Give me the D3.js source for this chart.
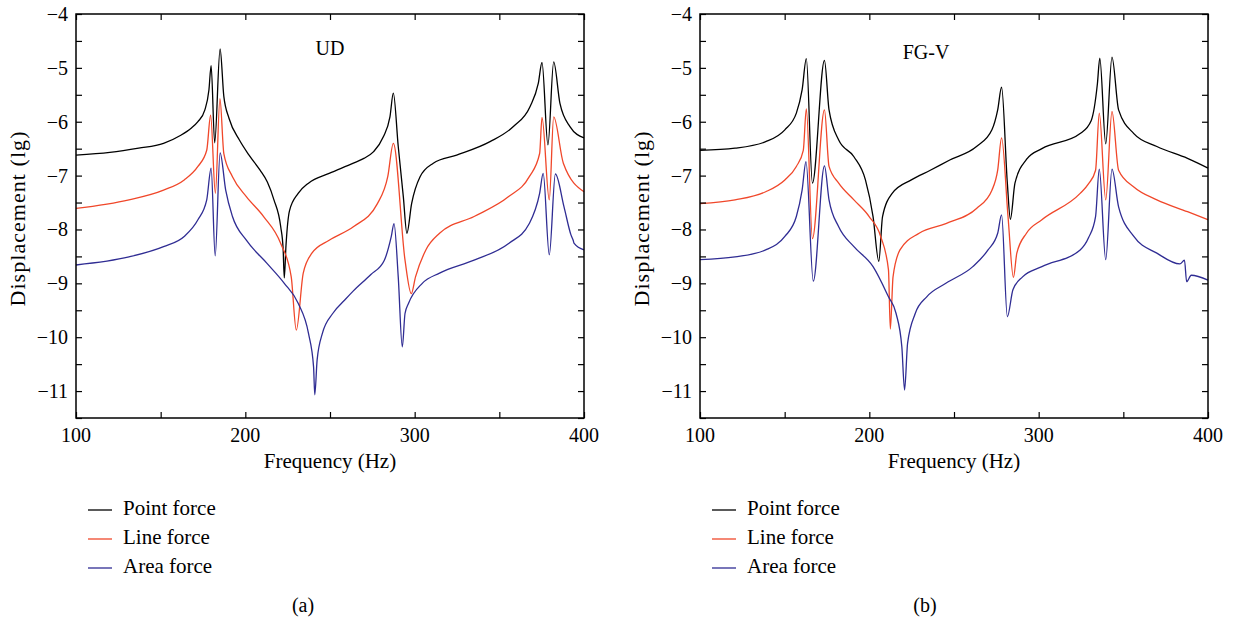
<!DOCTYPE html>
<html>
<head>
<meta charset="utf-8">
<script src="https://cdn.jsdelivr.net/npm/d3@7"></script>
<style>
  html, body { margin: 0; padding: 0; background: #fff; }
  svg { display: block; font-family: "Liberation Serif", "DejaVu Serif", serif; }
</style>
</head>
<body>
<svg id="chart" width="1234" height="624"></svg>
<script>
// Frequency response (lg displacement) of the plate under three load types.
const xTicks = [100, 200, 300, 400];
const xMinorTicks = [150, 250, 350];
const yTicks = [-4, -5, -6, -7, -8, -9, -10, -11];
const yMinorTicks = [-4.5, -5.5, -6.5, -7.5, -8.5, -9.5, -10.5, -11.5];
const seriesNames = ["Point force", "Line force", "Area force"];
const seriesColors = ["#000000", "#f0472a", "#2f2c93"];
const panelTitles = ["UD", "FG-V"];
const panelLabels = ["(a)", "(b)"];

// Panel (a): UD, [frequency Hz, lg displacement]
const udPoint = [
  [100, -6.62], [120, -6.57], [137, -6.49], [151.7, -6.40], [161.9, -6.25], [168, -6.12],
  [172, -6.00], [176.1, -5.78], [178.5, -5.41], [179.8, -4.96], [181.9, -6.39],
  [185.1, -4.65], [187.3, -5.53], [190.4, -5.94], [196.5, -6.34], [202.2, -6.62],
  [208.7, -6.90], [213, -7.12], [216.9, -7.45], [220.9, -7.95], [222.3, -8.35], [223.0, -8.90],
  [224.0, -8.30], [226.1, -7.65], [231.2, -7.33], [237.3, -7.14], [249.5, -6.96],
  [263.8, -6.77], [270, -6.68], [275.6, -6.56], [281.5, -6.28], [285.4, -5.91], [287.4, -5.47],
  [290.3, -6.46], [293.3, -7.39], [295.4, -8.07], [298.2, -7.52], [303.2, -7.02],
  [311, -6.77], [324.8, -6.62], [344.5, -6.37], [358.3, -6.09], [368.1, -5.72],
  [373.0, -5.29], [375.2, -4.90], [378.7, -6.43], [382.1, -4.89], [385.8, -5.66],
  [391.7, -6.09], [400, -6.30]
];
const udLine = [
  [100, -7.61], [131.3, -7.45], [151.7, -7.27], [163.9, -7.08], [172, -6.83], [177.2, -6.53],
  [179.5, -5.88], [182.3, -7.33], [185.0, -5.57], [187.3, -6.59], [192.4, -7.02],
  [200.6, -7.39], [210.8, -7.76], [220.9, -8.26], [227.1, -8.88], [230.1, -9.87],
  [234.2, -8.81], [239.3, -8.44], [249.5, -8.20], [263.8, -7.95], [278, -7.52],
  [284.1, -7.02], [287.4, -6.40], [294.3, -8.57], [298.0, -9.19], [300.5, -8.88],
  [306.6, -8.38], [314.7, -8.07], [335.1, -7.76], [355.5, -7.39], [367.7, -7.02],
  [373.8, -6.59], [375.2, -5.92], [379.5, -7.45], [382.1, -5.91], [387.8, -6.77],
  [400, -7.30]
];
const udArea = [
  [100, -8.66], [131.3, -8.51], [151.7, -8.32], [163.9, -8.13], [172, -7.82], [177.2, -7.45],
  [179.8, -6.86], [182.2, -8.49], [185.1, -6.58], [188.4, -7.27], [192.4, -7.76],
  [200.6, -8.20], [212.8, -8.63], [223, -9.00], [231.2, -9.37], [237.3, -9.93],
  [240.3, -10.55], [241.0, -11.07], [242.4, -10.42], [245.5, -9.93], [251.6, -9.56],
  [258.7, -9.31], [263.8, -9.14], [274, -8.84], [282.1, -8.57], [286.2, -8.13],
  [287.8, -7.89], [290.3, -8.88], [292.7, -10.18], [294.3, -9.56], [296.4, -9.37],
  [304.5, -9.00], [314.7, -8.81], [335.1, -8.57], [355.5, -8.26], [367.7, -7.89],
  [373.8, -7.33], [375.9, -6.96], [379.5, -8.47], [383.1, -6.97], [388.2, -7.58],
  [392.3, -8.10], [393.6, -8.20], [394.2, -8.26], [400, -8.38]
];

// Panel (b): FG-V, [frequency Hz, lg displacement]
const fgPoint = [
  [100, -6.53], [120.7, -6.49], [138.8, -6.37], [150.1, -6.15], [156.9, -5.84],
  [160.3, -5.41], [162.8, -4.83], [166.4, -7.14], [173.5, -4.86], [176.2, -5.78],
  [181.9, -6.34], [190.9, -6.65], [197.7, -7.08], [202.2, -7.76], [205.6, -8.59],
  [207.8, -7.76], [213.5, -7.33], [224.8, -7.08], [236, -6.90], [247.5, -6.71],
  [263.3, -6.46], [272.4, -6.15], [275.8, -5.78], [278.1, -5.36], [281.5, -7.14],
  [283.3, -7.81], [286, -7.14], [292.8, -6.70], [301.9, -6.50], [324.5, -6.22],
  [331, -5.98], [334.7, -5.29], [336.1, -4.82], [339.6, -6.41], [343.3, -4.80],
  [347.2, -5.78], [356.2, -6.22], [369.8, -6.46], [387.9, -6.68], [400, -6.86]
];
const fgLine = [
  [100, -7.52], [120.7, -7.45], [138.8, -7.30], [150.1, -7.08], [156.9, -6.83],
  [161, -6.53], [162.8, -5.76], [166.4, -8.17], [173.5, -5.78], [176.2, -6.83],
  [181.9, -7.14], [190.9, -7.45], [199.9, -7.76], [206.7, -8.13], [211.3, -8.75],
  [212.4, -9.85], [214, -8.88], [218.1, -8.38], [229.4, -8.07], [245.2, -7.89],
  [263.3, -7.61], [272.4, -7.27], [275.8, -6.90], [278.1, -6.30], [281.9, -7.76],
  [285.1, -8.89], [287.1, -8.44], [292.8, -8.07], [301.9, -7.82], [324.5, -7.33],
  [329.5, -7.15], [333.6, -6.90], [335.8, -5.84], [339.6, -7.45], [343.3, -5.81],
  [347.2, -6.90], [356.2, -7.21], [369.8, -7.45], [387.9, -7.67], [400, -7.82]
];
const fgArea = [
  [100, -8.56], [120.7, -8.51], [138.8, -8.38], [150.1, -8.13], [156.9, -7.76],
  [160.3, -7.27], [162.6, -6.74], [166.9, -8.96], [173.5, -6.82], [176.2, -7.45],
  [181.9, -7.95], [190.9, -8.32], [202.2, -8.69], [211.3, -9.25], [215.8, -9.56],
  [219.2, -10.18], [220.8, -10.98], [222.6, -10.11], [227.1, -9.56], [233.9, -9.25],
  [245.2, -9.00], [261.1, -8.69], [270.1, -8.38], [275.8, -8.07], [278.1, -7.73],
  [281.5, -9.62], [284.8, -9.12], [290.5, -8.88], [301.9, -8.69], [324.5, -8.38],
  [329.5, -8.15], [333.6, -7.76], [335.8, -6.88], [339.6, -8.56], [343.3, -6.88],
  [347.2, -7.58], [356.2, -8.13], [369.8, -8.44], [383.4, -8.64], [386.1, -8.57],
  [387.4, -8.97], [390.1, -8.85], [400, -8.94]
];

const panels = [
  { left: 76, title: panelTitles[0], titleX: 330, titleY: 55, label: panelLabels[0], labelX: 303, series: [udPoint, udLine, udArea] },
  { left: 700, title: panelTitles[1], titleX: 926, titleY: 59, label: panelLabels[1], labelX: 925, series: [fgPoint, fgLine, fgArea] }
];

const svg = d3.select("#chart");
const plotW = 508, plotTop = 14, plotBottom = 418;

panels.forEach(p => {
  const x = d3.scaleLinear().domain([100, 400]).range([p.left, p.left + plotW]);
  const y = d3.scaleLinear().domain([-11.5, -4]).range([plotBottom, plotTop]);
  const g = svg.append("g");

  // curves
  const line = d3.line()
    .x(d => x(d[0]))
    .y(d => y(d[1]))
    .curve(d3.curveMonotoneX);
  p.series.forEach((s, i) => {
    g.append("path")
      .datum(s)
      .attr("fill", "none")
      .attr("stroke", seriesColors[i])
      .attr("stroke-width", 1.3)
      .attr("stroke-linejoin", "round")
      .attr("d", line);
  });

  // frame with inward ticks on all sides
  const allX = xTicks.concat(xMinorTicks);
  const allY = yTicks.concat(yMinorTicks);
  const tickLen = 6;
  g.append("g")
    .attr("transform", `translate(0,${plotBottom})`)
    .call(d3.axisBottom(x).tickValues(allX).tickSize(-tickLen).tickFormat(""))
    .call(a => a.select(".domain").remove());
  g.append("g")
    .attr("transform", `translate(0,${plotTop})`)
    .call(d3.axisTop(x).tickValues(allX).tickSize(-tickLen).tickFormat(""))
    .call(a => a.select(".domain").remove());
  g.append("g")
    .attr("transform", `translate(${p.left},0)`)
    .call(d3.axisLeft(y).tickValues(allY).tickSize(-tickLen).tickFormat(""))
    .call(a => a.select(".domain").remove());
  g.append("g")
    .attr("transform", `translate(${p.left + plotW},0)`)
    .call(d3.axisRight(y).tickValues(allY).tickSize(-tickLen).tickFormat(""))
    .call(a => a.select(".domain").remove());
  g.selectAll(".tick line").attr("stroke", "#000").attr("stroke-width", 1.2);

  g.append("rect")
    .attr("x", p.left).attr("y", plotTop)
    .attr("width", plotW).attr("height", plotBottom - plotTop)
    .attr("fill", "none").attr("stroke", "#000").attr("stroke-width", 1.5);

  // tick labels
  g.selectAll(".xl").data(xTicks).enter().append("text")
    .attr("x", d => x(d)).attr("y", 442)
    .attr("text-anchor", "middle").attr("font-size", 20)
    .text(d => d);
  g.selectAll(".yl").data(yTicks).enter().append("text")
    .attr("x", p.left - 8).attr("y", d => y(d) + 7)
    .attr("text-anchor", "end").attr("font-size", 20)
    .text(d => "\u2212" + Math.abs(d));

  // axis titles
  g.append("text")
    .attr("x", p.left + plotW / 2).attr("y", 468)
    .attr("text-anchor", "middle").attr("font-size", 21)
    .text("Frequency (Hz)");
  g.append("text")
    .attr("transform", `translate(${p.left - 51},${(plotTop + plotBottom) / 2 + 3}) rotate(-90)`)
    .attr("text-anchor", "middle").attr("font-size", 22)
    .attr("textLength", 175).attr("lengthAdjust", "spacing")
    .text("Displacement (lg)");

  // panel title
  g.append("text")
    .attr("x", p.titleX).attr("y", p.titleY)
    .attr("text-anchor", "middle").attr("font-size", 20)
    .text(p.title);

  // legend
  seriesNames.forEach((name, i) => {
    const ly = 510 + i * 29;
    g.append("line")
      .attr("x1", p.left + 12).attr("x2", p.left + 36)
      .attr("y1", ly).attr("y2", ly)
      .attr("stroke", seriesColors[i]).attr("stroke-width", 1.3);
    g.append("text")
      .attr("x", p.left + 47).attr("y", ly + 5)
      .attr("font-size", 21)
      .text(name);
  });

  // panel label
  g.append("text")
    .attr("x", p.labelX).attr("y", 612)
    .attr("text-anchor", "middle").attr("font-size", 20)
    .text(p.label);
});
</script>
</body>
</html>
